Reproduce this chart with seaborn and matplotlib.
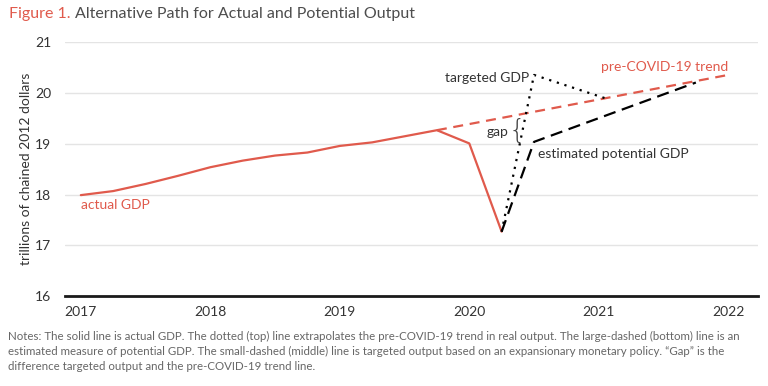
import numpy as np
import pandas as pd
import matplotlib.pyplot as plt
import seaborn as sns

# data (quarterly positions as decimal years)
actual_dates = [2017.0, 2017.25, 2017.5, 2017.75, 2018.0, 2018.25, 2018.5, 2018.75,
                2019.0, 2019.25, 2019.5, 2019.75, 2020.0, 2020.25]
actual_gdp = [17.99, 18.07, 18.21, 18.37, 18.54, 18.67, 18.77, 18.83,
              18.96, 19.03, 19.15, 19.27, 19.01, 17.27]

trend_dates = [2019.75, 2022.0]
trend_gdp = [19.27, 20.36]

potential_dates = [2020.25, 2020.5, 2021.75]
potential_gdp = [17.27, 19.04, 20.21]

targeted_dates = [2020.25, 2020.5, 2021.05]
targeted_gdp = [17.27, 20.36, 19.90]

year_ticks = [2017, 2018, 2019, 2020, 2021, 2022]
y_ticks = [16, 17, 18, 19, 20, 21]

red = '#e05a4c'
grey_text = '#4d4d4d'

sns.set_theme(style='whitegrid')
plt.rcParams['font.family'] = ['Lato', 'DejaVu Sans']

fig = plt.figure(figsize=(7.68, 3.86), dpi=100)
ax = fig.add_axes([0.085, 0.233, 0.902, 0.657])

df_actual = pd.DataFrame({'date': actual_dates, 'gdp': actual_gdp})
sns.lineplot(data=df_actual, x='date', y='gdp', ax=ax, color=red, lw=1.6)
sns.lineplot(x=trend_dates, y=trend_gdp, ax=ax, color=red, lw=1.6,
             linestyle=(0, (4.5, 3)))
sns.lineplot(x=potential_dates, y=potential_gdp, ax=ax, color='black', lw=1.6,
             linestyle=(0, (5.5, 3)))
sns.lineplot(x=targeted_dates, y=targeted_gdp, ax=ax, color='black', lw=1.6,
             linestyle=(0, (1, 2.6)))

ax.set_xlim(2016.88, 2022.23)
ax.set_ylim(16, 21)
ax.set_xticks(year_ticks)
ax.set_xticklabels([str(y) for y in year_ticks])
ax.set_yticks(y_ticks)
ax.tick_params(axis='both', labelsize=10, colors='#333333', length=0)
ax.tick_params(axis='y', pad=10)
ax.tick_params(axis='x', pad=7)
ax.grid(axis='y', color='#e4e4e4', lw=1)
ax.grid(axis='x', visible=False)
for s in ['top', 'right', 'left']:
    ax.spines[s].set_visible(False)
ax.spines['bottom'].set_color('#1a1a1a')
ax.spines['bottom'].set_linewidth(2)
ax.set_xlabel('')
ax.set_ylabel('trillions of chained 2012 dollars', fontsize=10, color='#333333', labelpad=2)

# annotations
ax.text(2017.0, 17.8, 'actual GDP', color=red, fontsize=10, ha='left', va='center')
ax.text(2022.0, 20.52, 'pre-COVID-19 trend', color=red, fontsize=10, ha='right', va='center')
ax.text(2020.46, 20.3, 'targeted GDP', color='#333333', fontsize=10, ha='right', va='center')
ax.text(2020.53, 18.8, 'estimated potential GDP', color='#333333', fontsize=10, ha='left', va='center')
ax.text(2020.3, 19.23, 'gap', color='#333333', fontsize=10, ha='right', va='center')
ax.text(2020.305, 19.27, '{', color='#444444', fontsize=19, ha='left', va='center',
        family='DejaVu Sans', fontweight='light')

# title: red figure number followed by grey title
t1 = fig.text(0.012, 0.965, 'Figure 1.', color=red, fontsize=11.5, ha='left', va='center')
fig.canvas.draw()
bb = t1.get_window_extent(renderer=fig.canvas.get_renderer()).transformed(fig.transFigure.inverted())
fig.text(bb.x1 + 0.006, 0.965, 'Alternative Path for Actual and Potential Output', color=grey_text,
         fontsize=11.5, ha='left', va='center')

notes = ('Notes: The solid line is actual GDP. The dotted (top) line extrapolates the pre-COVID-19 trend in real output. The large-dashed (bottom) line is an\n'
         'estimated measure of potential GDP. The small-dashed (middle) line is targeted output based on an expansionary monetary policy. \u201cGap\u201d is the\n'
         'difference targeted output and the pre-COVID-19 trend line.')
fig.text(0.01, 0.089, notes, color='#666666', fontsize=8.3, ha='left', va='center',
         linespacing=1.45)

fig.savefig('out.png', dpi=100)
